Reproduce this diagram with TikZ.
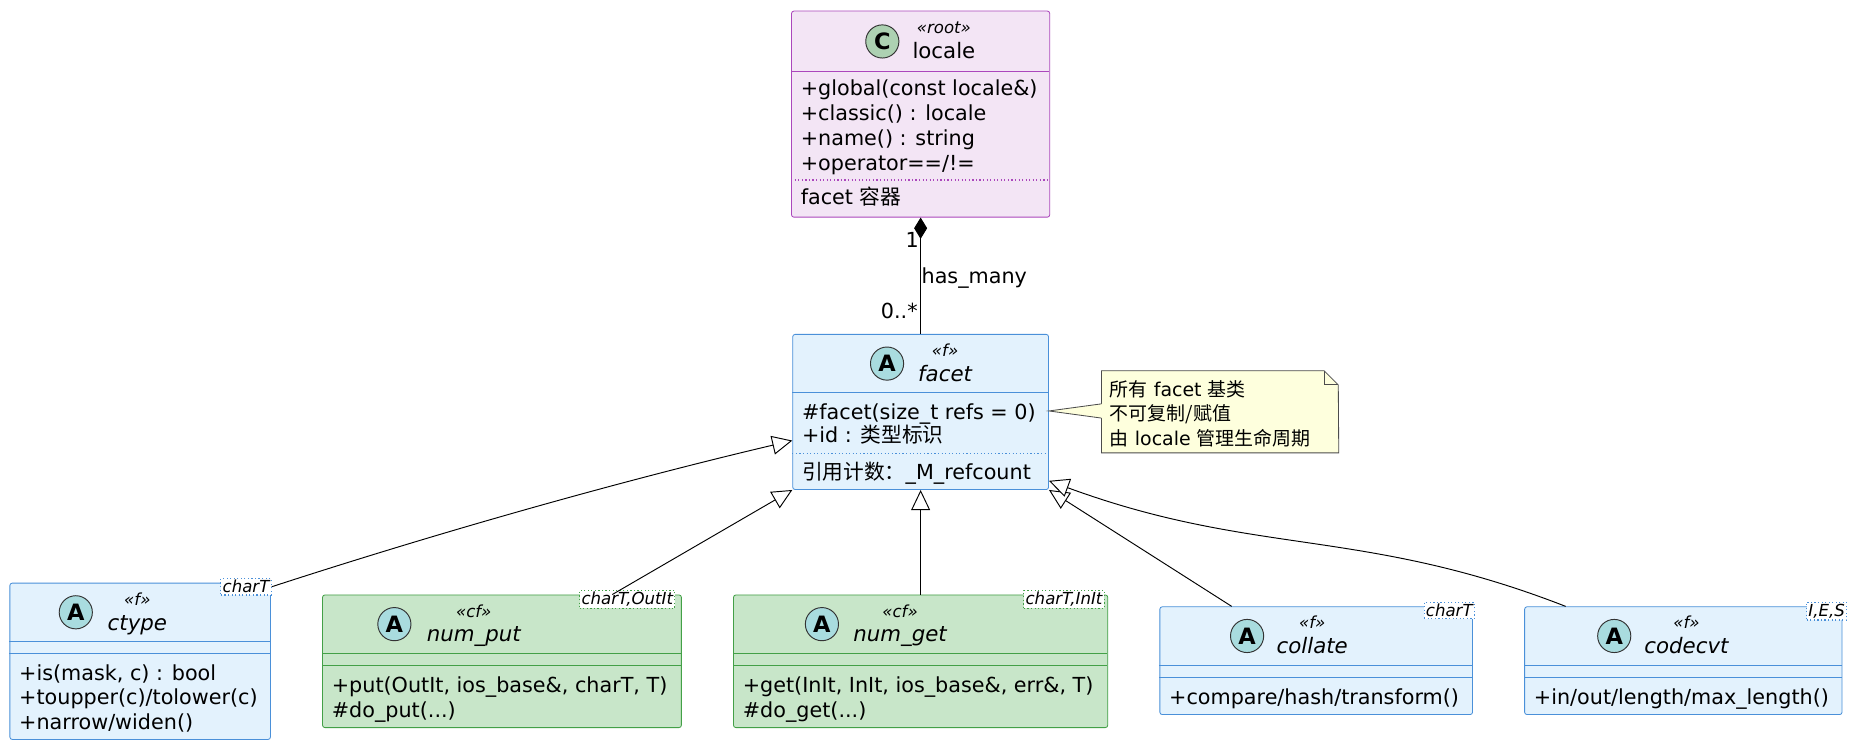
\documentclass[tikz,border=0pt]{standalone}
\usepackage{fontspec}
\setmainfont{DejaVu Sans}
\newfontfamily\cjk{Noto Sans CJK SC}
\usetikzlibrary{arrows.meta,calc}
\definecolor{pfill}{HTML}{F3E5F5}\definecolor{pdraw}{HTML}{AB47BC}
\definecolor{bfill}{HTML}{E3F2FD}\definecolor{bdraw}{HTML}{4A90D9}
\definecolor{gfill}{HTML}{C8E6C9}\definecolor{gdraw}{HTML}{43A047}
\definecolor{nfill}{HTML}{FEFFDD}
\definecolor{cicon}{HTML}{ADD1B2}\definecolor{aicon}{HTML}{A9DCDF}
\tikzset{
 cls/.style={draw,rounded corners=2pt,anchor=north west,inner sep=0pt,line width=0.7pt},
 purp/.style={cls,fill=pfill,draw=pdraw},
 blu/.style={cls,fill=bfill,draw=bdraw},
 grn/.style={cls,fill=gfill,draw=gdraw},
 mem/.style={anchor=base west,inner sep=0pt,font=\fontsize{17.5}{20}\selectfont},
 ster/.style={anchor=base,inner sep=0pt,font=\fontsize{14}{16}\selectfont\itshape},
 cname/.style={anchor=base,inner sep=0pt,font=\fontsize{18}{20}\selectfont},
 iname/.style={anchor=base,inner sep=0pt,font=\fontsize{18}{20}\selectfont\itshape},
 icon/.style={circle,draw=black!80,line width=0.8pt,minimum size=28pt,inner sep=0pt,font=\fontsize{19}{19}\selectfont\bfseries},
 tmpl/.style={draw=bdraw,dotted,line width=1pt,fill=white,inner sep=1.5pt,font=\fontsize{14}{15}\selectfont\itshape,anchor=north west},
 inh/.style={line width=0.8pt,-{Triangle[open,length=17pt,width=16pt,fill=white]}},
 lbl/.style={inner sep=0pt,font=\fontsize{17.5}{20}\selectfont},
}
\begin{document}
\begin{tikzpicture}[x=1pt,y=-1pt]
\useasboundingbox[fill=white] (0,0) rectangle (1568,632);
% locale
\node[purp,minimum width=218pt,minimum height=174pt] (locale) at (668,9) {};
\node[icon,fill=cicon] (li) at (745,35) {C};
\node[ster] (ls) at (797,28) {«root»};
\node[cname] (ln) at (797,49) {locale};
\draw[pdraw,line width=0.7pt] (668,60) -- (886,60);
\node[mem] (l1) at (676,81) {+global(const locale\&)};
\node[mem] (l2) at (676,102) {+classic() : locale};
\node[mem] (l3) at (676,123) {+name() : string};
\node[mem] (l4) at (676,144) {+operator==/!=};
\draw[pdraw,dotted,line width=1pt] (668,152) -- (886,152);
\node[mem] (l5) at (676,173) {facet {\cjk 容器}};
% facet
\node[blu,minimum width=216pt,minimum height=131pt] (facet) at (669,282) {};
\node[icon,fill=aicon] (fi) at (749,307) {A};
\node[ster] (fs) at (798,301) {«f»};
\node[iname] (fn) at (798,322) {facet};
\draw[bdraw,line width=0.7pt] (669,331) -- (885,331);
\node[mem] (f1) at (677,354) {\#facet(size\_t refs = 0)};
\node[mem] (f2) at (677,374) {+id : {\cjk 类型标识}};
\draw[bdraw,dotted,line width=1pt] (669,383) -- (885,383);
\node[mem] (f3) at (677,405) {{\cjk 引用计数：}\_M\_refcount};
% note
\coordinate (nfold) at (1118,313);
\node[draw=none,anchor=north west,minimum width=200pt,minimum height=69pt,inner sep=0pt] (note) at (930,313) {};
\draw[black!70,line width=0.7pt,fill=nfill] (note.north west) -- (nfold) -- (1130,325) -- (note.south east) -- (note.south west) -- cycle;
\draw[black!70,line width=0.7pt] (nfold) -- (1118,325) -- (1130,325);
\fill[nfill] (930.5,341) -- (885,347) -- (930.5,353) -- cycle;
\draw[black!70,line width=0.7pt] (930,341) -- (facet.east|-0,347) -- (930,353);
\node[lbl,anchor=base west,font=\fontsize{16}{18}\selectfont] (n1) at (937,335) {{\cjk 所有} facet {\cjk 基类}};
\node[lbl,anchor=base west,font=\fontsize{16}{18}\selectfont] (n2) at (937,355) {{\cjk 不可复制/赋值}};
\node[lbl,anchor=base west,font=\fontsize{16}{18}\selectfont] (n3) at (937,376) {{\cjk 由} locale {\cjk 管理生命周期}};
% composition
\draw[line width=0.8pt,{Diamond[length=18pt,width=11pt,fill=black]}-] (locale.south) -- (facet.north);
\node[lbl,anchor=base east] (m1) at (776,209) {1};
\node[lbl,anchor=base west] (hm) at (778,239) {has\_many};
\node[lbl,anchor=base east] (m2) at (775,269) {0..*};
% ctype
\node[blu,minimum width=220pt,minimum height=132pt] (ctype) at (8,492) {};
\node[icon,fill=aicon] at (64,517) {A};
\node[ster] at (116,511) {«f»};
\node[iname] at (116,532) {ctype};
\draw[bdraw,line width=0.7pt] (8,542) -- (228,542) (8,552) -- (228,552);
\node[mem] at (16,575) {+is(mask, c) : bool};
\node[mem] at (16,595) {+toupper(c)/tolower(c)};
\node[mem] at (16,616) {+narrow/widen()};
\node[tmpl] (ct) at (186,488) {charT};
% num_put
\node[grn,minimum width=303pt,minimum height=112pt] (numput) at (272,502) {};
\node[icon,fill=aicon] at (333,527) {A};
\node[ster] at (400,521) {«cf»};
\node[iname] at (400,542) {num\_put};
\draw[gdraw,line width=0.7pt] (272,552) -- (575,552) (272,562) -- (575,562);
\node[mem] at (280,585) {+put(OutIt, ios\_base\&, charT, T)};
\node[mem] at (280,606) {\#do\_put(...)};
\node[tmpl,draw=gdraw] (npt) at (489,498) {charT,OutIt};
% num_get
\node[grn,minimum width=316pt,minimum height=112pt] (numget) at (619,502) {};
\node[icon,fill=aicon] at (694,527) {A};
\node[ster] at (760,521) {«cf»};
\node[iname] at (760,542) {num\_get};
\draw[gdraw,line width=0.7pt] (619,552) -- (935,552) (619,562) -- (935,562);
\node[mem] at (627,585) {+get(InIt, InIt, ios\_base\&, err\&, T)};
\node[mem] at (627,606) {\#do\_get(...)};
\node[tmpl,draw=gdraw] (ngt) at (864,498) {charT,InIt};
% collate
\node[blu,minimum width=264pt,minimum height=91pt] (collate) at (979,512) {};
\node[icon,fill=aicon] at (1053,537) {A};
\node[ster] at (1108,531) {«f»};
\node[iname] at (1108,552) {collate};
\draw[bdraw,line width=0.7pt] (979,562) -- (1243,562) (979,572) -- (1243,572);
\node[mem] at (987,595) {+compare/hash/transform()};
\node[tmpl] (colt) at (1202,508) {charT};
% codecvt
\node[blu,minimum width=268pt,minimum height=91pt] (codecvt) at (1287,512) {};
\node[icon,fill=aicon] at (1363,537) {A};
\node[ster] at (1424,531) {«f»};
\node[iname] at (1424,552) {codecvt};
\draw[bdraw,line width=0.7pt] (1287,562) -- (1555,562) (1287,572) -- (1555,572);
\node[mem] at (1295,595) {+in/out/length/max\_length()};
\node[tmpl] (cvt) at (1525,508) {I,E,S};
% inheritance
\draw[inh] (ct.east) .. controls (400,440) and (550,400) .. (facet.west|-0,372);
\draw[inh] (numput.north west-|517,0) -- (facet.south west);
\draw[inh] (numget.north) -- (facet.south);
\draw[inh] (collate.north west-|1040,0) -- (facet.south east);
\draw[inh] (codecvt.north west-|1322,0) .. controls (1150,445) and (1060,470) .. (facet.east|-0,406);
\end{tikzpicture}
\end{document}
